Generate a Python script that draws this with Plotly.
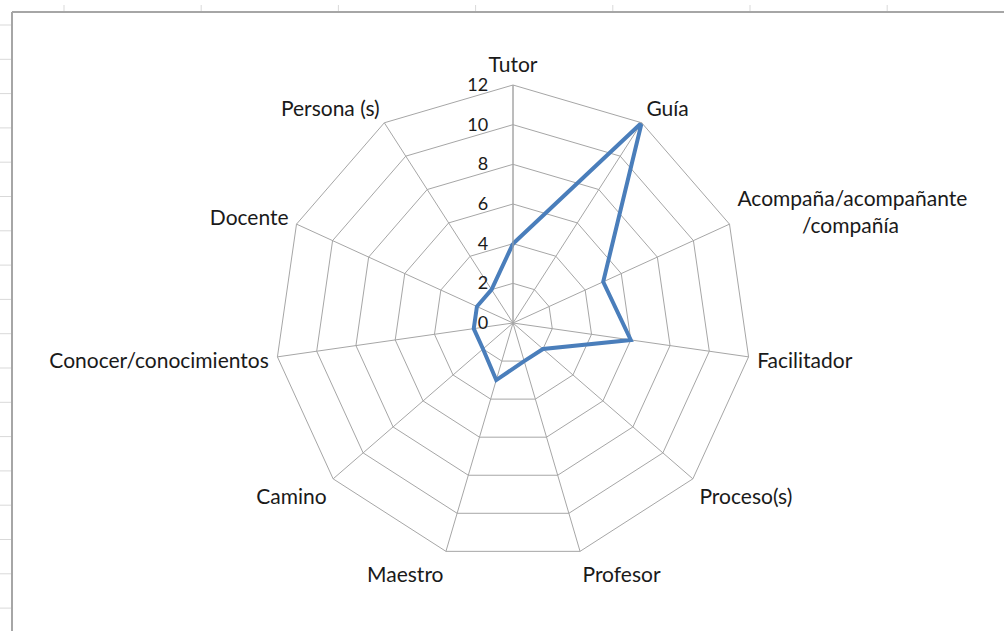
import plotly.graph_objects as go

categories = ["Tutor", "Guía",
              "Acompaña/acompañante<br>" + "\u00a0" * 12 + "/compañía",
              "Facilitador", "Proceso(s)", "Profesor", "Maestro", "Camino",
              "Conocer/conocimientos", "Docente", "Persona (s)"]
values = [4, 12, 5, 6, 2, 2, 3, 2, 2, 2, 2]
radial_ticks = [0, 2, 4, 6, 8, 10, 12]

W, H = 1004, 631
GRID = "#a6a6a6"
FONT = "Lato, Carlito, Calibri, sans-serif"

fig = go.Figure()
fig.add_trace(go.Scatterpolar(
    r=values + values[:1], theta=categories + categories[:1],
    mode="lines", line=dict(color="#4a7ebb", width=4),
    showlegend=False, hoverinfo="skip"))

cx, cy, R = 513, 323, 238
fig.update_layout(
    width=W, height=H,
    margin=dict(l=0, r=0, t=0, b=0),
    paper_bgcolor="white", plot_bgcolor="white",
    font=dict(family=FONT, color="#1a1a1a"),
    polar=dict(
        domain=dict(x=[(cx - R) / W, (cx + R) / W],
                    y=[1 - (cy + R) / H, 1 - (cy - R) / H]),
        bgcolor="white",
        gridshape="linear",
        angularaxis=dict(direction="clockwise", rotation=90,
                         type="category", categoryarray=categories,
                         showgrid=True, gridcolor=GRID, gridwidth=1,
                         showline=True, linecolor=GRID, linewidth=1,
                         ticks="outside", ticklen=4, tickcolor="rgba(0,0,0,0)",
                         tickfont=dict(size=21, family=FONT, color="#1a1a1a")),
        radialaxis=dict(range=[0, 12], tickvals=radial_ticks, ticktext=[str(v) for v in radial_ticks],
                        angle=90, side="counterclockwise", tickangle=90,
                        showgrid=True, gridcolor=GRID, gridwidth=1,
                        showline=True, linecolor=GRID, linewidth=1,
                        ticks="outside", ticklen=18, tickcolor="rgba(0,0,0,0)",
                        tickfont=dict(size=18, family=FONT, color="#1a1a1a")),
    ),
)

# spreadsheet frame around the chart
shapes = []
shapes.append(dict(type="line", xref="paper", yref="paper",
                   x0=12 / W, x1=12 / W, y0=0, y1=1 - 12 / H,
                   line=dict(color="#a6a6a6", width=2)))
shapes.append(dict(type="line", xref="paper", yref="paper",
                   x0=12 / W, x1=1, y0=1 - 12 / H, y1=1 - 12 / H,
                   line=dict(color="#a6a6a6", width=2)))
for k in range(18):
    y = 25 + 34.3 * k
    shapes.append(dict(type="line", xref="paper", yref="paper",
                       x0=0, x1=11 / W, y0=1 - y / H, y1=1 - y / H,
                       line=dict(color="#d9d9d9", width=1)))
for k in range(7):
    x = 64 + 137.2 * k
    shapes.append(dict(type="line", xref="paper", yref="paper",
                       x0=x / W, x1=x / W, y0=1 - 5 / H, y1=1 - 11 / H,
                       line=dict(color="#d9d9d9", width=1)))
fig.update_layout(shapes=shapes)

fig.write_html("out.html", config={"displayModeBar": False},
               post_script="document.body.style.margin='0px';document.body.style.overflow='hidden';")
